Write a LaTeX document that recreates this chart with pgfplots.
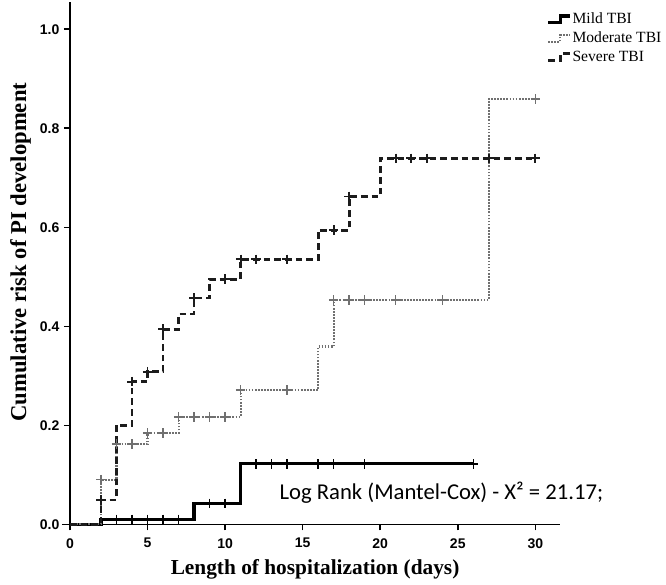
\documentclass[border=0pt]{standalone}
\usepackage{pgfplots}
\pgfplotsset{compat=1.18}
\usepackage{fontspec}
\setmainfont{Liberation Serif}
\newfontfamily\carlito{Carlito}
\newfontfamily\arialf{Liberation Sans}
\definecolor{modgray}{HTML}{707070}
\definecolor{sevblack}{HTML}{1C1C1C}
\begin{document}
\begin{tikzpicture}
\useasboundingbox (-52.5pt,-45.5pt) rectangle (447pt,393.2pt);
\begin{axis}[
  scale only axis,
  width=367.6pt, height=391.7pt,
  xmin=0, xmax=31.6, ymin=0, ymax=1.055,
  separate axis lines,
  axis x line=bottom, axis y line=left,
  x axis line style={-, line width=1.1pt, shorten <=-6pt},
  y axis line style={-, line width=1.1pt},
  tick align=outside,
  major tick length=4.5pt,
  every tick/.style={black, line width=1.1pt},
  xtick={0,5,...,30},
  ytick={0,0.2,0.4,0.6,0.8,1.0},
  yticklabel style={/pgf/number format/.cd, fixed, fixed zerofill, precision=1},
  xticklabel style={yshift=-2.5pt},
  /pgf/number format/assume math mode=true,
  ticklabel style={font=\arialf\bfseries\fontsize{10.5}{12}\selectfont},
  xlabel={Length of hospitalization (days)},
  ylabel={Cumulative risk of PI development},
  xlabel style={font=\bfseries\fontsize{16}{18}\selectfont, at={(axis description cs:0.5,0)}, anchor=base, yshift=-38pt},
  ylabel style={font=\bfseries\fontsize{17}{19}\selectfont, at={(axis description cs:0,0.521)}, anchor=center, yshift=37pt},
  legend style={draw=none, fill=none, at={(axis description cs:0.972,0.982)}, anchor=north west,
    font=\fontsize{11.7}{13.9}\selectfont, inner sep=0pt, row sep=2.6pt, nodes={inner sep=1pt}},
  legend cell align=left,
  legend image code/.code={\draw[#1] (0pt,-2.5pt) -- (9pt,-2.5pt) -- (9pt,2.5pt) -- (16pt,2.5pt);},
  clip=false,
]
% Mild TBI
\addplot[const plot, black, line width=2.4pt] coordinates {
 (0,0) (2,0.01) (8,0.042) (11,0.122) (26,0.122)};
\addlegendentry{Mild TBI}
% Moderate TBI
\addplot[const plot, modgray, line width=1.6pt, dash pattern=on 1.3pt off 1.0pt] coordinates {
 (0,0) (2,0.09) (3,0.162) (5,0.184) (7,0.217) (11,0.271) (16,0.359) (17,0.453) (27,0.859) (30,0.859)};
\addlegendentry{Moderate TBI}
% Severe TBI
\addplot[const plot, sevblack, line width=2pt, dash pattern=on 5pt off 3pt] coordinates {
 (0,0) (2,0.049) (3,0.20) (4,0.288) (5,0.308) (6,0.394) (7,0.425) (8,0.457) (9,0.495) (11,0.535) (16,0.594) (18,0.662) (20,0.739) (30,0.739)};
\addlegendentry{Severe TBI}
% censor marks
\addplot[forget plot, only marks, mark=+, mark size=3.6pt, mark options={black, line width=1.1pt, solid}] coordinates {
 (3,0.01) (4,0.01) (5,0.01) (6,0.01) (7,0.01) (9,0.042) (10,0.042) (12,0.122) (13,0.122) (14,0.122) (16,0.122) (17,0.122) (19,0.122) (26,0.122)};
\addplot[forget plot, only marks, mark=+, mark size=3.6pt, mark options={modgray, line width=1.1pt, solid}] coordinates {
 (2,0.09) (3,0.162) (4,0.162) (5,0.184) (6,0.184) (7,0.217) (8,0.217) (9,0.217) (10,0.217) (11,0.271) (14,0.271) (17,0.453) (18,0.453) (19,0.453) (21,0.453) (24,0.453) (30,0.859)};
\addplot[forget plot, only marks, mark=+, mark size=3.6pt, mark options={sevblack, line width=1.4pt, solid}] coordinates {
 (2,0.049) (4,0.288) (5,0.308) (6,0.394) (8,0.457) (10,0.495) (11,0.535) (12,0.535) (14,0.535) (17,0.594) (18,0.662) (21,0.739) (22,0.739) (23,0.739) (27,0.739) (30,0.739)};
\node[anchor=base west, font=\carlito\fontsize{17}{20}\selectfont, inner sep=0pt] at (axis cs:13.5,0.05) {Log Rank (Mantel-Cox) - X² = 21.17;};
\end{axis}
\end{tikzpicture}
\end{document}
